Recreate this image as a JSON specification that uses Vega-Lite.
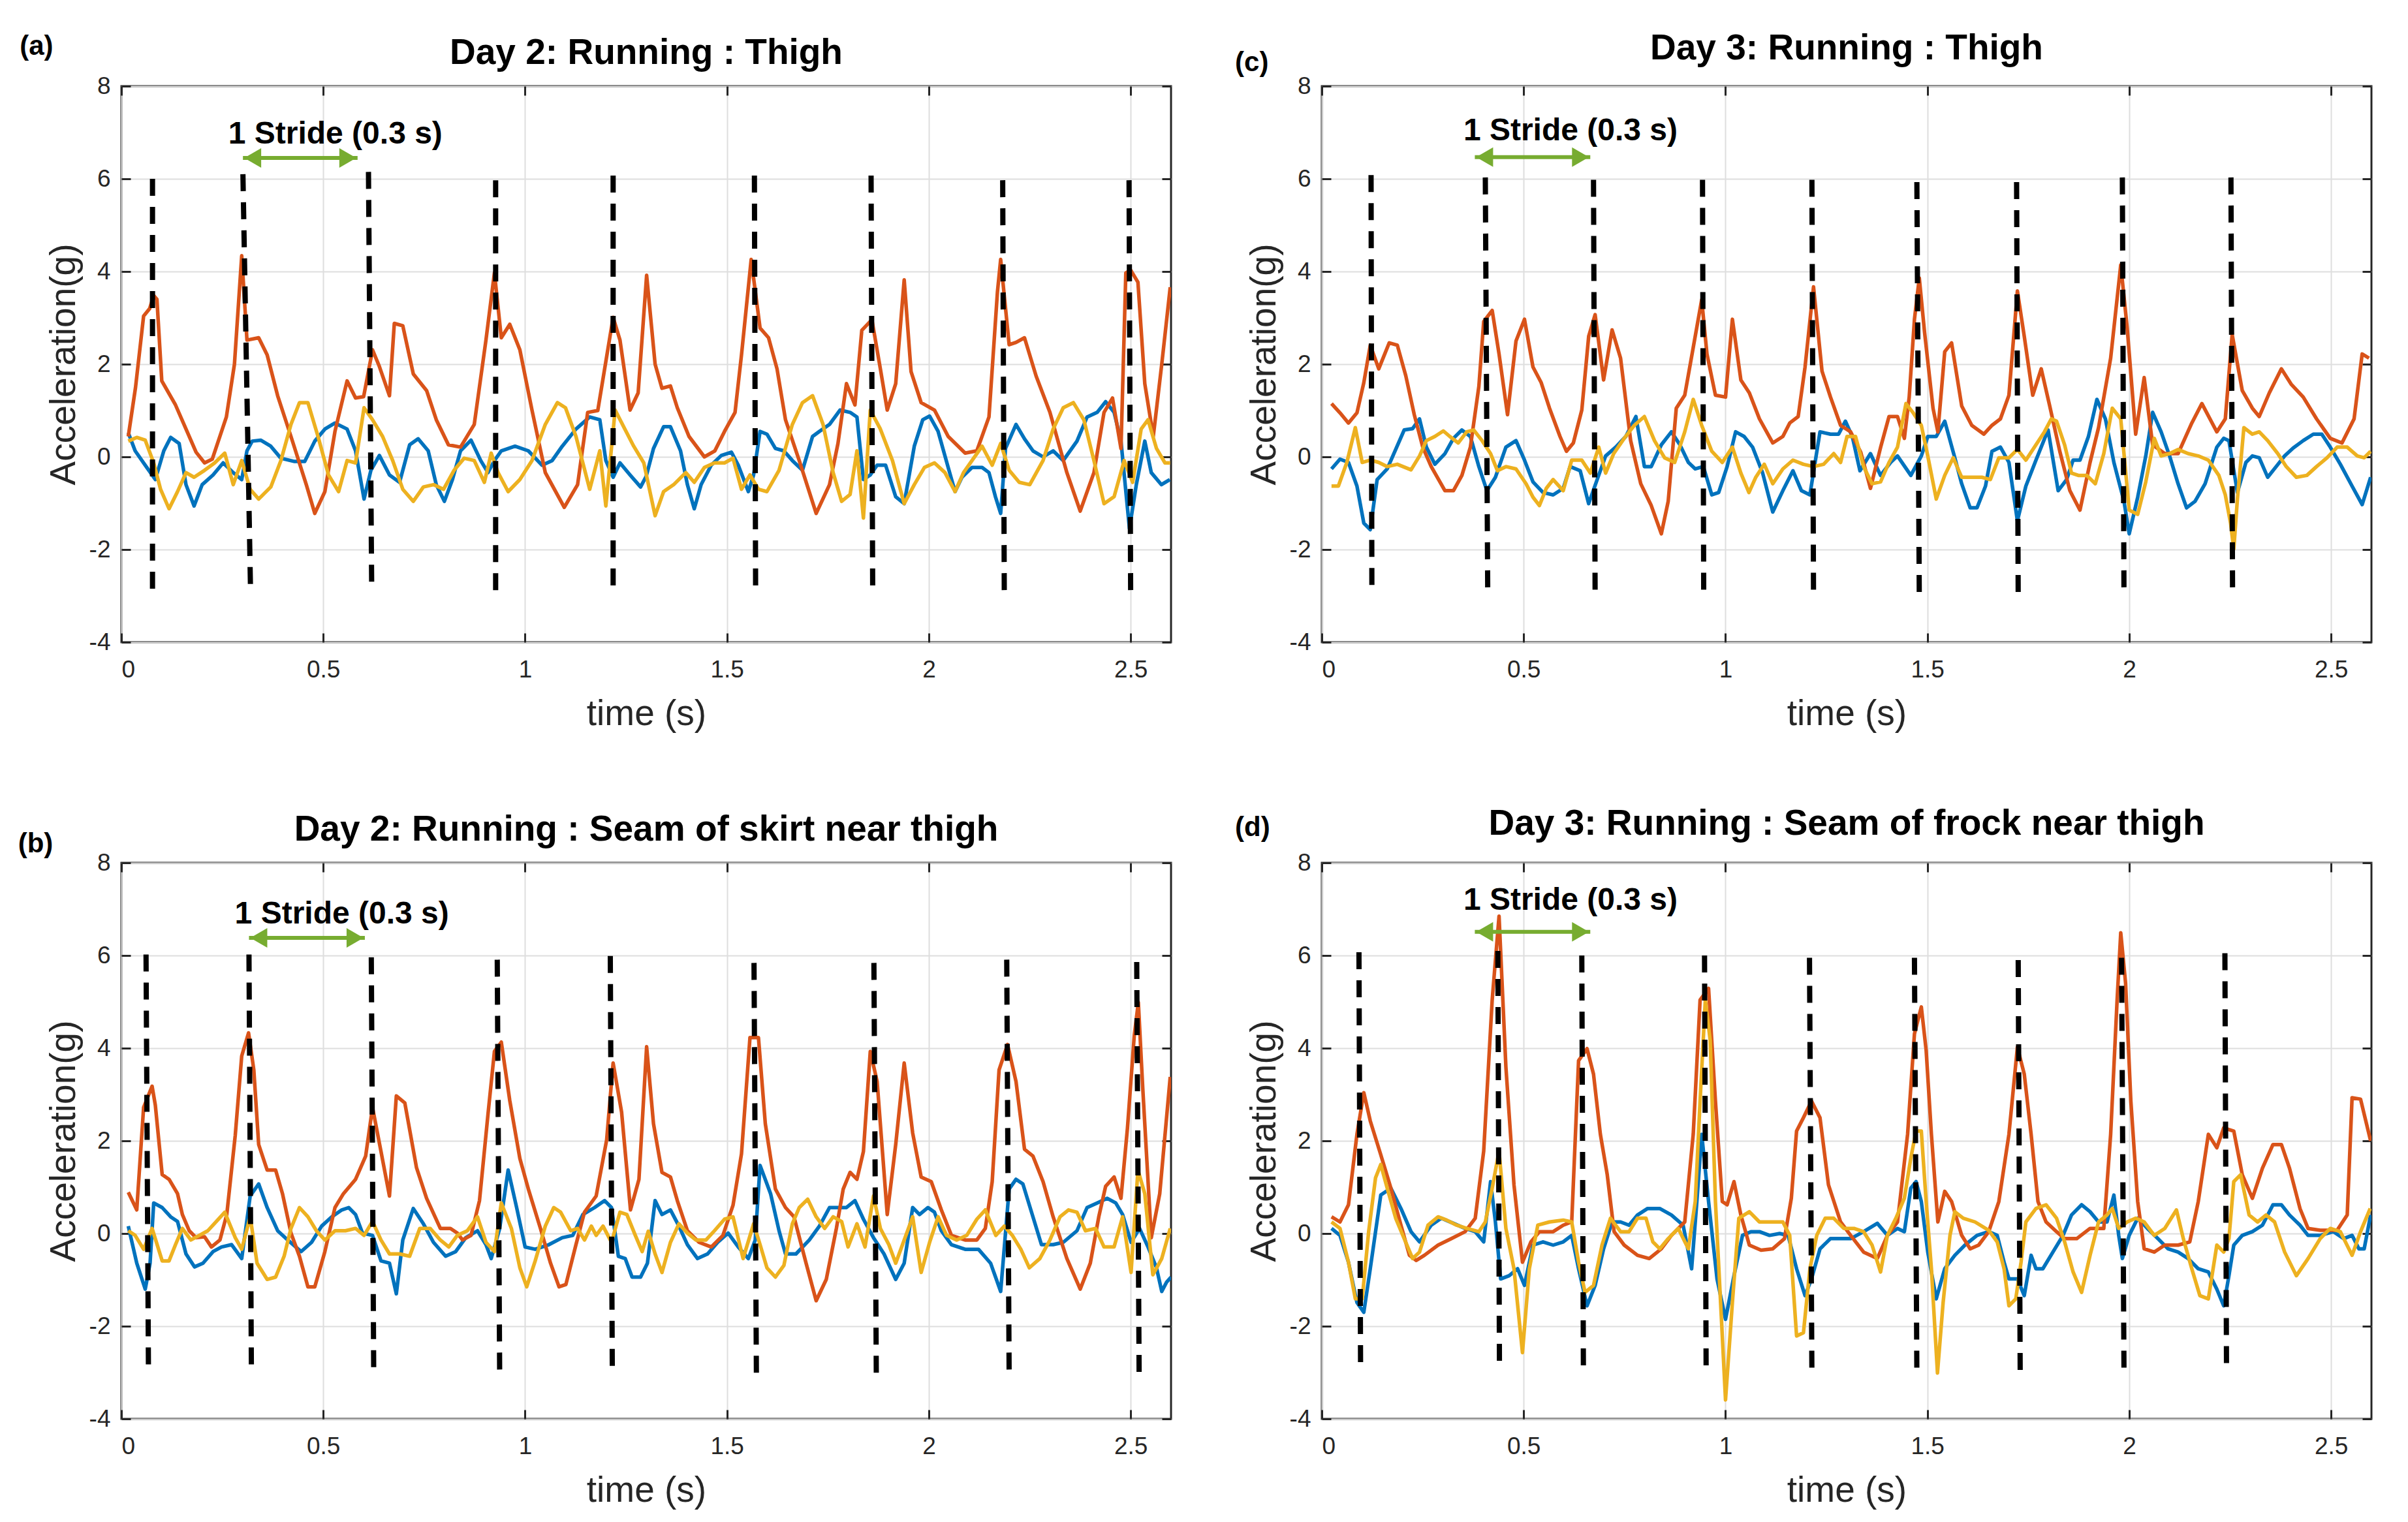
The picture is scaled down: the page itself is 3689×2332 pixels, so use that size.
{
"$schema": "https://vega.github.io/schema/vega-lite/v6.json",
"background": "white",
"padding": {"left": 26, "top": 45, "right": 10, "bottom": 10},
"columns": 2,
"spacing": {"row": 338, "column": 231},
"bounds": "flush",
"config": {
  "font": "Liberation Sans",
  "view": {"stroke": "#262626", "strokeWidth": 3},
  "axis": {"labelFontSize": 37, "labelColor": "#262626", "titleFontSize": 55, "titleFontWeight": "normal", "titleColor": "#262626", "gridColor": "#dedede", "gridWidth": 2, "domain": false, "tickColor": "#262626", "tickWidth": 3, "tickSize": -14, "labelPadding": 38},
  "axisX": {"titlePadding": 23},
  "axisY": {"titlePadding": 10, "labelPadding": 31},
  "title": {"fontSize": 55, "fontWeight": "bold", "color": "black", "frame": "group", "anchor": "middle"}
},
"datasets": {
"marks": [
{"p":"a","x1":0.077,"x2":0.077,"y1":6.0,"y2":-3.0},{"p":"a","x1":0.301,"x2":0.32,"y1":6.1,"y2":-2.96},{"p":"a","x1":0.612,"x2":0.62,"y1":6.15,"y2":-2.88},{"p":"a","x1":0.927,"x2":0.927,"y1":5.97,"y2":-3.07},{"p":"a","x1":1.218,"x2":1.218,"y1":6.07,"y2":-2.91},{"p":"a","x1":1.568,"x2":1.571,"y1":6.07,"y2":-2.96},{"p":"a","x1":1.857,"x2":1.861,"y1":6.07,"y2":-2.96},{"p":"a","x1":2.183,"x2":2.187,"y1":5.97,"y2":-3.07},{"p":"a","x1":2.496,"x2":2.5,"y1":5.97,"y2":-3.07},
{"p":"c","x1":0.122,"x2":0.124,"y1":6.08,"y2":-2.92},{"p":"c","x1":0.405,"x2":0.411,"y1":6.03,"y2":-2.99},{"p":"c","x1":0.673,"x2":0.677,"y1":5.98,"y2":-3.02},{"p":"c","x1":0.943,"x2":0.946,"y1":5.98,"y2":-3.02},{"p":"c","x1":1.214,"x2":1.218,"y1":5.98,"y2":-3.02},{"p":"c","x1":1.474,"x2":1.48,"y1":5.93,"y2":-3.07},{"p":"c","x1":1.721,"x2":1.725,"y1":5.93,"y2":-3.07},{"p":"c","x1":1.983,"x2":1.987,"y1":6.03,"y2":-2.99},{"p":"c","x1":2.252,"x2":2.256,"y1":6.03,"y2":-2.99},
{"p":"b","x1":0.061,"x2":0.067,"y1":6.02,"y2":-2.97},{"p":"b","x1":0.316,"x2":0.322,"y1":6.02,"y2":-2.97},{"p":"b","x1":0.619,"x2":0.625,"y1":5.96,"y2":-3.05},{"p":"b","x1":0.931,"x2":0.937,"y1":5.91,"y2":-3.09},{"p":"b","x1":1.211,"x2":1.216,"y1":5.99,"y2":-3.02},{"p":"b","x1":1.567,"x2":1.573,"y1":5.84,"y2":-3.16},{"p":"b","x1":1.864,"x2":1.87,"y1":5.84,"y2":-3.16},{"p":"b","x1":2.193,"x2":2.199,"y1":5.91,"y2":-3.09},{"p":"b","x1":2.515,"x2":2.521,"y1":5.86,"y2":-3.12},
{"p":"d","x1":0.092,"x2":0.096,"y1":6.07,"y2":-2.92},{"p":"d","x1":0.436,"x2":0.44,"y1":6.1,"y2":-2.82},{"p":"d","x1":0.644,"x2":0.648,"y1":6.0,"y2":-3.03},{"p":"d","x1":0.948,"x2":0.952,"y1":6.0,"y2":-3.03},{"p":"d","x1":1.208,"x2":1.214,"y1":5.95,"y2":-3.08},{"p":"d","x1":1.468,"x2":1.474,"y1":5.95,"y2":-3.08},{"p":"d","x1":1.725,"x2":1.73,"y1":5.9,"y2":-3.13},{"p":"d","x1":1.981,"x2":1.987,"y1":5.95,"y2":-2.92},{"p":"d","x1":2.237,"x2":2.241,"y1":6.05,"y2":-2.97}
],
"arrows": [
{"p":"a","t1":0.301,"t2":0.585,"v":6.45,"tt":0.53,"tv":6.96,"label":"1 Stride (0.3 s)"},
{"p":"c","t1":0.379,"t2":0.665,"v":6.47,"tt":0.616,"tv":7.03,"label":"1 Stride (0.3 s)"},
{"p":"b","t1":0.316,"t2":0.603,"v":6.38,"tt":0.546,"tv":6.89,"label":"1 Stride (0.3 s)"},
{"p":"d","t1":0.379,"t2":0.665,"v":6.51,"tt":0.616,"tv":7.18,"label":"1 Stride (0.3 s)"}
],
"tags": [
{"p":"a","t":-0.252,"v":8.86,"label":"(a)"},
{"p":"c","t":-0.215,"v":8.51,"label":"(c)"},
{"p":"b","t":-0.256,"v":8.41,"label":"(b)"},
{"p":"d","t":-0.215,"v":8.76,"label":"(d)"}
],
"a": [
{"s":"x","t":0.017,"v":0.52},{"s":"x","t":0.034,"v":0.13},{"s":"x","t":0.063,"v":-0.23},{"s":"x","t":0.084,"v":-0.49},{"s":"x","t":0.105,"v":0.13},{"s":"x","t":0.122,"v":0.42},{"s":"x","t":0.143,"v":0.29},{"s":"x","t":0.16,"v":-0.6},{"s":"x","t":0.18,"v":-1.06},{"s":"x","t":0.2,"v":-0.6},{"s":"x","t":0.227,"v":-0.39},{"s":"x","t":0.252,"v":-0.13},{"s":"x","t":0.277,"v":-0.34},{"s":"x","t":0.298,"v":-0.49},{"s":"x","t":0.311,"v":0.13},{"s":"x","t":0.324,"v":0.34},{"s":"x","t":0.345,"v":0.36},{"s":"x","t":0.37,"v":0.23},{"s":"x","t":0.395,"v":-0.03},{"s":"x","t":0.429,"v":-0.1},{"s":"x","t":0.454,"v":-0.1},{"s":"x","t":0.479,"v":0.34},{"s":"x","t":0.504,"v":0.6},{"s":"x","t":0.529,"v":0.73},{"s":"x","t":0.559,"v":0.6},{"s":"x","t":0.58,"v":0.13},{"s":"x","t":0.601,"v":-0.91},{"s":"x","t":0.618,"v":-0.29},{"s":"x","t":0.639,"v":0.03},{"s":"x","t":0.664,"v":-0.39},{"s":"x","t":0.689,"v":-0.55},{"s":"x","t":0.714,"v":0.26},{"s":"x","t":0.735,"v":0.39},{"s":"x","t":0.76,"v":0.13},{"s":"x","t":0.78,"v":-0.6},{"s":"x","t":0.8,"v":-0.96},{"s":"x","t":0.82,"v":-0.49},{"s":"x","t":0.84,"v":0.13},{"s":"x","t":0.866,"v":0.36},{"s":"x","t":0.89,"v":-0.08},{"s":"x","t":0.908,"v":-0.34},{"s":"x","t":0.924,"v":-0.08},{"s":"x","t":0.941,"v":0.13},{"s":"x","t":0.975,"v":0.23},{"s":"x","t":1.008,"v":0.13},{"s":"x","t":1.042,"v":-0.18},{"s":"x","t":1.067,"v":-0.08},{"s":"x","t":1.092,"v":0.23},{"s":"x","t":1.126,"v":0.6},{"s":"x","t":1.16,"v":0.86},{"s":"x","t":1.185,"v":0.8},{"s":"x","t":1.2,"v":-0.08},{"s":"x","t":1.218,"v":-0.44},{"s":"x","t":1.235,"v":-0.13},{"s":"x","t":1.26,"v":-0.39},{"s":"x","t":1.286,"v":-0.65},{"s":"x","t":1.3,"v":-0.42},{"s":"x","t":1.318,"v":0.18},{"s":"x","t":1.343,"v":0.65},{"s":"x","t":1.36,"v":0.65},{"s":"x","t":1.385,"v":0.13},{"s":"x","t":1.402,"v":-0.6},{"s":"x","t":1.419,"v":-1.12},{"s":"x","t":1.436,"v":-0.6},{"s":"x","t":1.461,"v":-0.18},{"s":"x","t":1.486,"v":0.03},{"s":"x","t":1.511,"v":0.1},{"s":"x","t":1.528,"v":-0.18},{"s":"x","t":1.553,"v":-0.75},{"s":"x","t":1.566,"v":-0.39},{"s":"x","t":1.582,"v":0.55},{"s":"x","t":1.599,"v":0.49},{"s":"x","t":1.62,"v":0.18},{"s":"x","t":1.641,"v":0.13},{"s":"x","t":1.662,"v":-0.08},{"s":"x","t":1.687,"v":-0.29},{"s":"x","t":1.712,"v":0.44},{"s":"x","t":1.729,"v":0.55},{"s":"x","t":1.754,"v":0.7},{"s":"x","t":1.78,"v":1.01},{"s":"x","t":1.805,"v":0.96},{"s":"x","t":1.822,"v":0.86},{"s":"x","t":1.838,"v":-0.49},{"s":"x","t":1.855,"v":-0.39},{"s":"x","t":1.872,"v":-0.18},{"s":"x","t":1.893,"v":-0.18},{"s":"x","t":1.918,"v":-0.86},{"s":"x","t":1.939,"v":-1.01},{"s":"x","t":1.964,"v":0.23},{"s":"x","t":1.985,"v":0.8},{"s":"x","t":2.002,"v":0.88},{"s":"x","t":2.023,"v":0.55},{"s":"x","t":2.048,"v":-0.23},{"s":"x","t":2.065,"v":-0.75},{"s":"x","t":2.082,"v":-0.44},{"s":"x","t":2.107,"v":-0.23},{"s":"x","t":2.132,"v":-0.23},{"s":"x","t":2.149,"v":-0.34},{"s":"x","t":2.165,"v":-0.86},{"s":"x","t":2.178,"v":-1.22},{"s":"x","t":2.19,"v":0.18},{"s":"x","t":2.216,"v":0.7},{"s":"x","t":2.237,"v":0.39},{"s":"x","t":2.258,"v":0.13},{"s":"x","t":2.283,"v":0.0},{"s":"x","t":2.308,"v":0.13},{"s":"x","t":2.333,"v":-0.08},{"s":"x","t":2.367,"v":0.34},{"s":"x","t":2.392,"v":0.86},{"s":"x","t":2.417,"v":0.96},{"s":"x","t":2.438,"v":1.19},{"s":"x","t":2.459,"v":0.96},{"s":"x","t":2.476,"v":0.34},{"s":"x","t":2.497,"v":-1.55},{"s":"x","t":2.514,"v":-0.6},{"s":"x","t":2.535,"v":0.34},{"s":"x","t":2.551,"v":-0.34},{"s":"x","t":2.576,"v":-0.6},{"s":"x","t":2.597,"v":-0.49},
{"s":"y","t":0.017,"v":0.44},{"s":"y","t":0.035,"v":1.5},{"s":"y","t":0.055,"v":3.04},{"s":"y","t":0.07,"v":3.2},{"s":"y","t":0.08,"v":3.48},{"s":"y","t":0.088,"v":3.4},{"s":"y","t":0.1,"v":1.64},{"s":"y","t":0.134,"v":1.12},{"s":"y","t":0.16,"v":0.6},{"s":"y","t":0.185,"v":0.1},{"s":"y","t":0.206,"v":-0.13},{"s":"y","t":0.225,"v":-0.05},{"s":"y","t":0.26,"v":0.86},{"s":"y","t":0.28,"v":2.0},{"s":"y","t":0.298,"v":4.34},{"s":"y","t":0.311,"v":2.52},{"s":"y","t":0.34,"v":2.57},{"s":"y","t":0.361,"v":2.2},{"s":"y","t":0.387,"v":1.32},{"s":"y","t":0.42,"v":0.44},{"s":"y","t":0.458,"v":-0.6},{"s":"y","t":0.479,"v":-1.22},{"s":"y","t":0.504,"v":-0.75},{"s":"y","t":0.529,"v":0.55},{"s":"y","t":0.559,"v":1.64},{"s":"y","t":0.58,"v":1.27},{"s":"y","t":0.6,"v":1.3},{"s":"y","t":0.622,"v":2.31},{"s":"y","t":0.639,"v":1.95},{"s":"y","t":0.664,"v":1.32},{"s":"y","t":0.676,"v":2.88},{"s":"y","t":0.697,"v":2.83},{"s":"y","t":0.723,"v":1.79},{"s":"y","t":0.756,"v":1.43},{"s":"y","t":0.78,"v":0.8},{"s":"y","t":0.81,"v":0.26},{"s":"y","t":0.84,"v":0.21},{"s":"y","t":0.874,"v":0.7},{"s":"y","t":0.903,"v":2.52},{"s":"y","t":0.924,"v":3.97},{"s":"y","t":0.941,"v":2.57},{"s":"y","t":0.962,"v":2.86},{"s":"y","t":0.987,"v":2.31},{"s":"y","t":1.017,"v":1.01},{"s":"y","t":1.05,"v":-0.34},{"s":"y","t":1.097,"v":-1.09},{"s":"y","t":1.13,"v":-0.6},{"s":"y","t":1.155,"v":0.96},{"s":"y","t":1.18,"v":1.0},{"s":"y","t":1.218,"v":3.01},{"s":"y","t":1.235,"v":2.52},{"s":"y","t":1.26,"v":1.01},{"s":"y","t":1.28,"v":1.38},{"s":"y","t":1.301,"v":3.92},{"s":"y","t":1.322,"v":2.0},{"s":"y","t":1.339,"v":1.48},{"s":"y","t":1.36,"v":1.53},{"s":"y","t":1.377,"v":1.06},{"s":"y","t":1.406,"v":0.44},{"s":"y","t":1.444,"v":0.0},{"s":"y","t":1.47,"v":0.13},{"s":"y","t":1.494,"v":0.55},{"s":"y","t":1.52,"v":0.96},{"s":"y","t":1.536,"v":2.2},{"s":"y","t":1.56,"v":4.26},{"s":"y","t":1.582,"v":2.78},{"s":"y","t":1.603,"v":2.57},{"s":"y","t":1.624,"v":1.9},{"s":"y","t":1.645,"v":0.8},{"s":"y","t":1.679,"v":-0.08},{"s":"y","t":1.721,"v":-1.22},{"s":"y","t":1.754,"v":-0.6},{"s":"y","t":1.775,"v":0.29},{"s":"y","t":1.796,"v":1.58},{"s":"y","t":1.817,"v":1.12},{"s":"y","t":1.834,"v":2.73},{"s":"y","t":1.859,"v":2.96},{"s":"y","t":1.88,"v":1.9},{"s":"y","t":1.897,"v":1.01},{"s":"y","t":1.918,"v":1.58},{"s":"y","t":1.939,"v":3.82},{"s":"y","t":1.956,"v":1.84},{"s":"y","t":1.981,"v":1.17},{"s":"y","t":2.014,"v":1.01},{"s":"y","t":2.048,"v":0.44},{"s":"y","t":2.09,"v":0.08},{"s":"y","t":2.119,"v":0.13},{"s":"y","t":2.149,"v":0.86},{"s":"y","t":2.17,"v":3.56},{"s":"y","t":2.178,"v":4.26},{"s":"y","t":2.199,"v":2.42},{"s":"y","t":2.216,"v":2.47},{"s":"y","t":2.237,"v":2.57},{"s":"y","t":2.266,"v":1.74},{"s":"y","t":2.3,"v":0.96},{"s":"y","t":2.342,"v":-0.34},{"s":"y","t":2.375,"v":-1.17},{"s":"y","t":2.409,"v":-0.34},{"s":"y","t":2.434,"v":0.96},{"s":"y","t":2.455,"v":1.27},{"s":"y","t":2.476,"v":0.18},{"s":"y","t":2.488,"v":3.97},{"s":"y","t":2.5,"v":4.03},{"s":"y","t":2.518,"v":3.77},{"s":"y","t":2.535,"v":1.58},{"s":"y","t":2.556,"v":0.44},{"s":"y","t":2.577,"v":2.0},{"s":"y","t":2.598,"v":3.66},
{"s":"z","t":0.017,"v":0.34},{"s":"z","t":0.038,"v":0.42},{"s":"z","t":0.059,"v":0.36},{"s":"z","t":0.08,"v":-0.13},{"s":"z","t":0.097,"v":-0.7},{"s":"z","t":0.118,"v":-1.12},{"s":"z","t":0.139,"v":-0.75},{"s":"z","t":0.16,"v":-0.34},{"s":"z","t":0.18,"v":-0.44},{"s":"z","t":0.206,"v":-0.29},{"s":"z","t":0.231,"v":-0.13},{"s":"z","t":0.256,"v":0.08},{"s":"z","t":0.277,"v":-0.6},{"s":"z","t":0.298,"v":-0.08},{"s":"z","t":0.319,"v":-0.7},{"s":"z","t":0.34,"v":-0.91},{"s":"z","t":0.37,"v":-0.65},{"s":"z","t":0.395,"v":-0.08},{"s":"z","t":0.42,"v":0.7},{"s":"z","t":0.441,"v":1.17},{"s":"z","t":0.462,"v":1.17},{"s":"z","t":0.487,"v":0.44},{"s":"z","t":0.513,"v":-0.39},{"s":"z","t":0.538,"v":-0.75},{"s":"z","t":0.559,"v":-0.08},{"s":"z","t":0.58,"v":-0.13},{"s":"z","t":0.601,"v":1.06},{"s":"z","t":0.622,"v":0.8},{"s":"z","t":0.647,"v":0.44},{"s":"z","t":0.672,"v":-0.08},{"s":"z","t":0.697,"v":-0.7},{"s":"z","t":0.723,"v":-0.96},{"s":"z","t":0.748,"v":-0.65},{"s":"z","t":0.773,"v":-0.6},{"s":"z","t":0.798,"v":-0.7},{"s":"z","t":0.824,"v":-0.29},{"s":"z","t":0.849,"v":-0.03},{"s":"z","t":0.874,"v":-0.08},{"s":"z","t":0.899,"v":-0.55},{"s":"z","t":0.916,"v":0.08},{"s":"z","t":0.933,"v":-0.34},{"s":"z","t":0.958,"v":-0.75},{"s":"z","t":0.987,"v":-0.49},{"s":"z","t":1.017,"v":-0.08},{"s":"z","t":1.05,"v":0.7},{"s":"z","t":1.08,"v":1.17},{"s":"z","t":1.1,"v":1.06},{"s":"z","t":1.126,"v":0.44},{"s":"z","t":1.16,"v":-0.7},{"s":"z","t":1.185,"v":0.13},{"s":"z","t":1.2,"v":-1.06},{"s":"z","t":1.223,"v":1.01},{"s":"z","t":1.244,"v":0.65},{"s":"z","t":1.269,"v":0.23},{"s":"z","t":1.294,"v":-0.13},{"s":"z","t":1.322,"v":-1.27},{"s":"z","t":1.343,"v":-0.75},{"s":"z","t":1.368,"v":-0.6},{"s":"z","t":1.398,"v":-0.34},{"s":"z","t":1.419,"v":-0.55},{"s":"z","t":1.444,"v":-0.23},{"s":"z","t":1.469,"v":-0.13},{"s":"z","t":1.494,"v":-0.13},{"s":"z","t":1.515,"v":-0.03},{"s":"z","t":1.536,"v":-0.7},{"s":"z","t":1.557,"v":-0.39},{"s":"z","t":1.578,"v":-0.7},{"s":"z","t":1.599,"v":-0.75},{"s":"z","t":1.629,"v":-0.29},{"s":"z","t":1.662,"v":0.7},{"s":"z","t":1.687,"v":1.17},{"s":"z","t":1.712,"v":1.32},{"s":"z","t":1.738,"v":0.7},{"s":"z","t":1.763,"v":-0.34},{"s":"z","t":1.784,"v":-0.96},{"s":"z","t":1.805,"v":-0.81},{"s":"z","t":1.822,"v":0.13},{"s":"z","t":1.838,"v":-1.32},{"s":"z","t":1.855,"v":1.01},{"s":"z","t":1.88,"v":0.6},{"s":"z","t":1.91,"v":-0.08},{"s":"z","t":1.939,"v":-1.01},{"s":"z","t":1.964,"v":-0.6},{"s":"z","t":1.989,"v":-0.23},{"s":"z","t":2.014,"v":-0.13},{"s":"z","t":2.04,"v":-0.34},{"s":"z","t":2.065,"v":-0.75},{"s":"z","t":2.086,"v":-0.34},{"s":"z","t":2.107,"v":-0.08},{"s":"z","t":2.132,"v":0.23},{"s":"z","t":2.157,"v":-0.18},{"s":"z","t":2.178,"v":0.29},{"s":"z","t":2.199,"v":-0.29},{"s":"z","t":2.224,"v":-0.55},{"s":"z","t":2.25,"v":-0.6},{"s":"z","t":2.283,"v":-0.08},{"s":"z","t":2.308,"v":0.6},{"s":"z","t":2.333,"v":1.06},{"s":"z","t":2.358,"v":1.17},{"s":"z","t":2.384,"v":0.8},{"s":"z","t":2.409,"v":-0.08},{"s":"z","t":2.434,"v":-1.01},{"s":"z","t":2.459,"v":-0.86},{"s":"z","t":2.484,"v":-0.08},{"s":"z","t":2.505,"v":-0.55},{"s":"z","t":2.526,"v":0.6},{"s":"z","t":2.543,"v":0.8},{"s":"z","t":2.564,"v":0.18},{"s":"z","t":2.585,"v":-0.13},{"s":"z","t":2.598,"v":-0.13}
],
"c": [
{"s":"x","t":0.024,"v":-0.26},{"s":"x","t":0.045,"v":-0.05},{"s":"x","t":0.066,"v":-0.12},{"s":"x","t":0.087,"v":-0.63},{"s":"x","t":0.104,"v":-1.43},{"s":"x","t":0.12,"v":-1.57},{"s":"x","t":0.137,"v":-0.49},{"s":"x","t":0.162,"v":-0.26},{"s":"x","t":0.183,"v":0.16},{"s":"x","t":0.204,"v":0.58},{"s":"x","t":0.225,"v":0.61},{"s":"x","t":0.242,"v":0.82},{"s":"x","t":0.259,"v":0.21},{"s":"x","t":0.28,"v":-0.16},{"s":"x","t":0.305,"v":0.07},{"s":"x","t":0.326,"v":0.4},{"s":"x","t":0.347,"v":0.58},{"s":"x","t":0.368,"v":0.44},{"s":"x","t":0.389,"v":-0.21},{"s":"x","t":0.409,"v":-0.73},{"s":"x","t":0.43,"v":-0.44},{"s":"x","t":0.456,"v":0.21},{"s":"x","t":0.481,"v":0.35},{"s":"x","t":0.502,"v":-0.07},{"s":"x","t":0.523,"v":-0.54},{"s":"x","t":0.548,"v":-0.77},{"s":"x","t":0.573,"v":-0.82},{"s":"x","t":0.598,"v":-0.68},{"s":"x","t":0.615,"v":-0.21},{"s":"x","t":0.64,"v":-0.3},{"s":"x","t":0.661,"v":-1.01},{"s":"x","t":0.682,"v":-0.49},{"s":"x","t":0.703,"v":0.02},{"s":"x","t":0.728,"v":0.21},{"s":"x","t":0.753,"v":0.44},{"s":"x","t":0.778,"v":0.87},{"s":"x","t":0.799,"v":-0.21},{"s":"x","t":0.816,"v":-0.21},{"s":"x","t":0.841,"v":0.26},{"s":"x","t":0.866,"v":0.54},{"s":"x","t":0.887,"v":0.26},{"s":"x","t":0.908,"v":-0.12},{"s":"x","t":0.925,"v":-0.26},{"s":"x","t":0.945,"v":-0.21},{"s":"x","t":0.966,"v":-0.82},{"s":"x","t":0.983,"v":-0.77},{"s":"x","t":1.004,"v":-0.21},{"s":"x","t":1.025,"v":0.54},{"s":"x","t":1.046,"v":0.44},{"s":"x","t":1.067,"v":0.21},{"s":"x","t":1.092,"v":-0.35},{"s":"x","t":1.117,"v":-1.19},{"s":"x","t":1.142,"v":-0.73},{"s":"x","t":1.167,"v":-0.3},{"s":"x","t":1.188,"v":-0.73},{"s":"x","t":1.209,"v":-0.82},{"s":"x","t":1.234,"v":0.54},{"s":"x","t":1.26,"v":0.49},{"s":"x","t":1.28,"v":0.49},{"s":"x","t":1.297,"v":0.77},{"s":"x","t":1.314,"v":0.44},{"s":"x","t":1.333,"v":-0.3},{"s":"x","t":1.359,"v":0.07},{"s":"x","t":1.384,"v":-0.4},{"s":"x","t":1.409,"v":-0.12},{"s":"x","t":1.426,"v":0.02},{"s":"x","t":1.459,"v":-0.4},{"s":"x","t":1.485,"v":0.02},{"s":"x","t":1.501,"v":0.44},{"s":"x","t":1.522,"v":0.44},{"s":"x","t":1.543,"v":0.77},{"s":"x","t":1.568,"v":-0.02},{"s":"x","t":1.585,"v":-0.58},{"s":"x","t":1.606,"v":-1.1},{"s":"x","t":1.623,"v":-1.1},{"s":"x","t":1.644,"v":-0.63},{"s":"x","t":1.66,"v":0.12},{"s":"x","t":1.681,"v":0.21},{"s":"x","t":1.702,"v":-0.12},{"s":"x","t":1.723,"v":-1.38},{"s":"x","t":1.744,"v":-0.63},{"s":"x","t":1.769,"v":-0.07},{"s":"x","t":1.799,"v":0.58},{"s":"x","t":1.824,"v":-0.73},{"s":"x","t":1.845,"v":-0.49},{"s":"x","t":1.861,"v":-0.07},{"s":"x","t":1.878,"v":-0.07},{"s":"x","t":1.899,"v":0.44},{"s":"x","t":1.92,"v":1.24},{"s":"x","t":1.941,"v":0.82},{"s":"x","t":1.962,"v":-0.12},{"s":"x","t":1.987,"v":-0.96},{"s":"x","t":2.0,"v":-1.66},{"s":"x","t":2.021,"v":-0.87},{"s":"x","t":2.041,"v":0.02},{"s":"x","t":2.058,"v":0.96},{"s":"x","t":2.079,"v":0.54},{"s":"x","t":2.1,"v":0.02},{"s":"x","t":2.121,"v":-0.58},{"s":"x","t":2.142,"v":-1.1},{"s":"x","t":2.163,"v":-0.96},{"s":"x","t":2.188,"v":-0.58},{"s":"x","t":2.217,"v":0.21},{"s":"x","t":2.234,"v":0.4},{"s":"x","t":2.247,"v":0.35},{"s":"x","t":2.268,"v":-0.77},{"s":"x","t":2.289,"v":-0.12},{"s":"x","t":2.305,"v":0.02},{"s":"x","t":2.322,"v":-0.02},{"s":"x","t":2.343,"v":-0.44},{"s":"x","t":2.364,"v":-0.21},{"s":"x","t":2.385,"v":0.02},{"s":"x","t":2.406,"v":0.19},{"s":"x","t":2.431,"v":0.35},{"s":"x","t":2.456,"v":0.49},{"s":"x","t":2.477,"v":0.49},{"s":"x","t":2.498,"v":0.21},{"s":"x","t":2.523,"v":-0.16},{"s":"x","t":2.552,"v":-0.63},{"s":"x","t":2.577,"v":-1.03},{"s":"x","t":2.598,"v":-0.44},
{"s":"y","t":0.024,"v":1.15},{"s":"y","t":0.045,"v":0.95},{"s":"y","t":0.066,"v":0.73},{"s":"y","t":0.087,"v":0.95},{"s":"y","t":0.104,"v":1.6},{"s":"y","t":0.12,"v":2.41},{"s":"y","t":0.141,"v":1.9},{"s":"y","t":0.167,"v":2.46},{"s":"y","t":0.187,"v":2.41},{"s":"y","t":0.208,"v":1.75},{"s":"y","t":0.229,"v":0.91},{"s":"y","t":0.25,"v":0.21},{"s":"y","t":0.271,"v":-0.21},{"s":"y","t":0.305,"v":-0.73},{"s":"y","t":0.326,"v":-0.73},{"s":"y","t":0.347,"v":-0.4},{"s":"y","t":0.368,"v":0.21},{"s":"y","t":0.389,"v":1.52},{"s":"y","t":0.401,"v":2.92},{"s":"y","t":0.422,"v":3.16},{"s":"y","t":0.439,"v":2.22},{"s":"y","t":0.46,"v":0.91},{"s":"y","t":0.481,"v":2.5},{"s":"y","t":0.502,"v":2.97},{"s":"y","t":0.523,"v":1.94},{"s":"y","t":0.543,"v":1.61},{"s":"y","t":0.564,"v":1.05},{"s":"y","t":0.59,"v":0.44},{"s":"y","t":0.606,"v":0.12},{"s":"y","t":0.623,"v":0.3},{"s":"y","t":0.644,"v":1.01},{"s":"y","t":0.661,"v":2.6},{"s":"y","t":0.677,"v":3.07},{"s":"y","t":0.698,"v":1.66},{"s":"y","t":0.719,"v":2.74},{"s":"y","t":0.74,"v":2.13},{"s":"y","t":0.765,"v":0.35},{"s":"y","t":0.79,"v":-0.58},{"s":"y","t":0.816,"v":-1.05},{"s":"y","t":0.841,"v":-1.66},{"s":"y","t":0.858,"v":-0.96},{"s":"y","t":0.878,"v":1.05},{"s":"y","t":0.899,"v":1.33},{"s":"y","t":0.92,"v":2.36},{"s":"y","t":0.941,"v":3.39},{"s":"y","t":0.954,"v":2.22},{"s":"y","t":0.975,"v":1.33},{"s":"y","t":1.0,"v":1.29},{"s":"y","t":1.017,"v":2.97},{"s":"y","t":1.038,"v":1.66},{"s":"y","t":1.059,"v":1.38},{"s":"y","t":1.084,"v":0.82},{"s":"y","t":1.117,"v":0.3},{"s":"y","t":1.142,"v":0.44},{"s":"y","t":1.159,"v":0.73},{"s":"y","t":1.18,"v":0.87},{"s":"y","t":1.197,"v":1.94},{"s":"y","t":1.218,"v":3.67},{"s":"y","t":1.239,"v":1.85},{"s":"y","t":1.26,"v":1.29},{"s":"y","t":1.285,"v":0.68},{"s":"y","t":1.31,"v":0.54},{"s":"y","t":1.335,"v":0.1},{"s":"y","t":1.359,"v":-0.68},{"s":"y","t":1.384,"v":0.2},{"s":"y","t":1.405,"v":0.87},{"s":"y","t":1.426,"v":0.87},{"s":"y","t":1.443,"v":0.4},{"s":"y","t":1.455,"v":1.29},{"s":"y","t":1.468,"v":2.97},{"s":"y","t":1.48,"v":3.86},{"s":"y","t":1.493,"v":2.69},{"s":"y","t":1.514,"v":1.05},{"s":"y","t":1.526,"v":0.54},{"s":"y","t":1.543,"v":2.27},{"s":"y","t":1.56,"v":2.46},{"s":"y","t":1.585,"v":1.1},{"s":"y","t":1.61,"v":0.68},{"s":"y","t":1.64,"v":0.49},{"s":"y","t":1.66,"v":0.68},{"s":"y","t":1.681,"v":0.82},{"s":"y","t":1.702,"v":1.33},{"s":"y","t":1.723,"v":3.58},{"s":"y","t":1.74,"v":2.6},{"s":"y","t":1.761,"v":1.33},{"s":"y","t":1.782,"v":1.9},{"s":"y","t":1.803,"v":1.1},{"s":"y","t":1.828,"v":0.12},{"s":"y","t":1.853,"v":-0.73},{"s":"y","t":1.878,"v":-1.15},{"s":"y","t":1.903,"v":-0.12},{"s":"y","t":1.924,"v":0.63},{"s":"y","t":1.954,"v":2.13},{"s":"y","t":1.979,"v":4.14},{"s":"y","t":1.995,"v":2.78},{"s":"y","t":2.016,"v":0.49},{"s":"y","t":2.037,"v":1.71},{"s":"y","t":2.058,"v":0.26},{"s":"y","t":2.088,"v":0.07},{"s":"y","t":2.121,"v":0.07},{"s":"y","t":2.155,"v":0.73},{"s":"y","t":2.18,"v":1.15},{"s":"y","t":2.217,"v":0.54},{"s":"y","t":2.238,"v":0.82},{"s":"y","t":2.255,"v":2.64},{"s":"y","t":2.28,"v":1.43},{"s":"y","t":2.305,"v":1.05},{"s":"y","t":2.322,"v":0.87},{"s":"y","t":2.347,"v":1.38},{"s":"y","t":2.377,"v":1.9},{"s":"y","t":2.401,"v":1.57},{"s":"y","t":2.431,"v":1.29},{"s":"y","t":2.464,"v":0.82},{"s":"y","t":2.498,"v":0.4},{"s":"y","t":2.527,"v":0.3},{"s":"y","t":2.557,"v":0.82},{"s":"y","t":2.577,"v":2.22},{"s":"y","t":2.594,"v":2.13},
{"s":"z","t":0.024,"v":-0.63},{"s":"z","t":0.041,"v":-0.63},{"s":"z","t":0.062,"v":-0.12},{"s":"z","t":0.083,"v":0.63},{"s":"z","t":0.1,"v":-0.12},{"s":"z","t":0.12,"v":-0.07},{"s":"z","t":0.141,"v":-0.12},{"s":"z","t":0.162,"v":-0.21},{"s":"z","t":0.187,"v":-0.16},{"s":"z","t":0.221,"v":-0.28},{"s":"z","t":0.242,"v":0.02},{"s":"z","t":0.259,"v":0.35},{"s":"z","t":0.28,"v":0.44},{"s":"z","t":0.301,"v":0.56},{"s":"z","t":0.317,"v":0.44},{"s":"z","t":0.338,"v":0.3},{"s":"z","t":0.359,"v":0.54},{"s":"z","t":0.376,"v":0.58},{"s":"z","t":0.397,"v":0.35},{"s":"z","t":0.418,"v":0.07},{"s":"z","t":0.435,"v":-0.3},{"s":"z","t":0.456,"v":-0.21},{"s":"z","t":0.481,"v":-0.26},{"s":"z","t":0.506,"v":-0.58},{"s":"z","t":0.523,"v":-0.87},{"s":"z","t":0.539,"v":-1.05},{"s":"z","t":0.556,"v":-0.68},{"s":"z","t":0.573,"v":-0.49},{"s":"z","t":0.598,"v":-0.73},{"s":"z","t":0.619,"v":-0.07},{"s":"z","t":0.644,"v":-0.07},{"s":"z","t":0.665,"v":-0.35},{"s":"z","t":0.686,"v":0.21},{"s":"z","t":0.703,"v":-0.35},{"s":"z","t":0.723,"v":0.07},{"s":"z","t":0.749,"v":0.4},{"s":"z","t":0.774,"v":0.68},{"s":"z","t":0.799,"v":0.87},{"s":"z","t":0.824,"v":0.35},{"s":"z","t":0.849,"v":-0.02},{"s":"z","t":0.874,"v":-0.12},{"s":"z","t":0.899,"v":0.54},{"s":"z","t":0.92,"v":1.24},{"s":"z","t":0.941,"v":0.68},{"s":"z","t":0.966,"v":0.12},{"s":"z","t":0.992,"v":-0.12},{"s":"z","t":1.017,"v":0.21},{"s":"z","t":1.038,"v":-0.35},{"s":"z","t":1.058,"v":-0.77},{"s":"z","t":1.075,"v":-0.44},{"s":"z","t":1.096,"v":-0.16},{"s":"z","t":1.117,"v":-0.58},{"s":"z","t":1.142,"v":-0.26},{"s":"z","t":1.167,"v":-0.07},{"s":"z","t":1.193,"v":-0.16},{"s":"z","t":1.218,"v":-0.21},{"s":"z","t":1.243,"v":-0.16},{"s":"z","t":1.268,"v":0.07},{"s":"z","t":1.285,"v":-0.12},{"s":"z","t":1.301,"v":0.44},{"s":"z","t":1.322,"v":0.44},{"s":"z","t":1.342,"v":-0.21},{"s":"z","t":1.363,"v":-0.58},{"s":"z","t":1.384,"v":-0.54},{"s":"z","t":1.405,"v":-0.12},{"s":"z","t":1.426,"v":0.21},{"s":"z","t":1.447,"v":1.15},{"s":"z","t":1.464,"v":0.96},{"s":"z","t":1.485,"v":0.68},{"s":"z","t":1.501,"v":0.02},{"s":"z","t":1.522,"v":-0.91},{"s":"z","t":1.543,"v":-0.4},{"s":"z","t":1.564,"v":-0.02},{"s":"z","t":1.585,"v":-0.44},{"s":"z","t":1.61,"v":-0.44},{"s":"z","t":1.635,"v":-0.44},{"s":"z","t":1.656,"v":-0.49},{"s":"z","t":1.677,"v":-0.02},{"s":"z","t":1.702,"v":-0.02},{"s":"z","t":1.723,"v":0.16},{"s":"z","t":1.744,"v":-0.07},{"s":"z","t":1.769,"v":0.26},{"s":"z","t":1.79,"v":0.54},{"s":"z","t":1.807,"v":0.82},{"s":"z","t":1.82,"v":0.77},{"s":"z","t":1.84,"v":0.26},{"s":"z","t":1.857,"v":-0.35},{"s":"z","t":1.874,"v":-0.4},{"s":"z","t":1.895,"v":-0.4},{"s":"z","t":1.916,"v":-0.58},{"s":"z","t":1.937,"v":0.07},{"s":"z","t":1.958,"v":1.05},{"s":"z","t":1.979,"v":0.82},{"s":"z","t":2.0,"v":-1.15},{"s":"z","t":2.021,"v":-1.24},{"s":"z","t":2.041,"v":-0.54},{"s":"z","t":2.062,"v":0.4},{"s":"z","t":2.079,"v":0.02},{"s":"z","t":2.1,"v":0.07},{"s":"z","t":2.121,"v":0.16},{"s":"z","t":2.146,"v":0.07},{"s":"z","t":2.171,"v":0.02},{"s":"z","t":2.196,"v":-0.07},{"s":"z","t":2.222,"v":-0.4},{"s":"z","t":2.238,"v":-0.82},{"s":"z","t":2.251,"v":-1.43},{"s":"z","t":2.259,"v":-1.99},{"s":"z","t":2.268,"v":-0.91},{"s":"z","t":2.284,"v":0.63},{"s":"z","t":2.305,"v":0.49},{"s":"z","t":2.322,"v":0.54},{"s":"z","t":2.343,"v":0.35},{"s":"z","t":2.368,"v":0.07},{"s":"z","t":2.389,"v":-0.21},{"s":"z","t":2.414,"v":-0.44},{"s":"z","t":2.44,"v":-0.4},{"s":"z","t":2.464,"v":-0.21},{"s":"z","t":2.49,"v":-0.02},{"s":"z","t":2.515,"v":0.21},{"s":"z","t":2.54,"v":0.21},{"s":"z","t":2.565,"v":0.02},{"s":"z","t":2.582,"v":-0.02},{"s":"z","t":2.598,"v":0.12}
],
"b": [
{"s":"x","t":0.017,"v":0.16},{"s":"x","t":0.038,"v":-0.64},{"s":"x","t":0.059,"v":-1.2},{"s":"x","t":0.071,"v":-0.64},{"s":"x","t":0.08,"v":0.66},{"s":"x","t":0.101,"v":0.56},{"s":"x","t":0.122,"v":0.36},{"s":"x","t":0.139,"v":0.26},{"s":"x","t":0.16,"v":-0.44},{"s":"x","t":0.181,"v":-0.72},{"s":"x","t":0.202,"v":-0.64},{"s":"x","t":0.227,"v":-0.39},{"s":"x","t":0.248,"v":-0.29},{"s":"x","t":0.273,"v":-0.24},{"s":"x","t":0.298,"v":-0.54},{"s":"x","t":0.319,"v":0.81},{"s":"x","t":0.34,"v":1.07},{"s":"x","t":0.361,"v":0.56},{"s":"x","t":0.387,"v":0.06},{"s":"x","t":0.412,"v":-0.14},{"s":"x","t":0.445,"v":-0.39},{"s":"x","t":0.471,"v":-0.19},{"s":"x","t":0.496,"v":0.16},{"s":"x","t":0.521,"v":0.36},{"s":"x","t":0.546,"v":0.51},{"s":"x","t":0.563,"v":0.56},{"s":"x","t":0.58,"v":0.41},{"s":"x","t":0.597,"v":0.01},{"s":"x","t":0.622,"v":-0.04},{"s":"x","t":0.643,"v":-0.59},{"s":"x","t":0.664,"v":-0.64},{"s":"x","t":0.681,"v":-1.3},{"s":"x","t":0.697,"v":-0.14},{"s":"x","t":0.723,"v":0.54},{"s":"x","t":0.748,"v":0.21},{"s":"x","t":0.773,"v":-0.19},{"s":"x","t":0.803,"v":-0.49},{"s":"x","t":0.828,"v":-0.39},{"s":"x","t":0.853,"v":-0.09},{"s":"x","t":0.882,"v":0.06},{"s":"x","t":0.903,"v":-0.24},{"s":"x","t":0.916,"v":-0.54},{"s":"x","t":0.937,"v":0.11},{"s":"x","t":0.958,"v":1.37},{"s":"x","t":0.979,"v":0.56},{"s":"x","t":1.0,"v":-0.29},{"s":"x","t":1.025,"v":-0.34},{"s":"x","t":1.059,"v":-0.24},{"s":"x","t":1.092,"v":-0.09},{"s":"x","t":1.118,"v":-0.04},{"s":"x","t":1.143,"v":0.41},{"s":"x","t":1.172,"v":0.56},{"s":"x","t":1.197,"v":0.71},{"s":"x","t":1.214,"v":0.56},{"s":"x","t":1.231,"v":-0.49},{"s":"x","t":1.248,"v":-0.54},{"s":"x","t":1.265,"v":-0.94},{"s":"x","t":1.286,"v":-0.94},{"s":"x","t":1.303,"v":-0.64},{"s":"x","t":1.322,"v":0.71},{"s":"x","t":1.339,"v":0.41},{"s":"x","t":1.36,"v":0.51},{"s":"x","t":1.381,"v":0.16},{"s":"x","t":1.402,"v":-0.24},{"s":"x","t":1.427,"v":-0.54},{"s":"x","t":1.452,"v":-0.44},{"s":"x","t":1.477,"v":-0.19},{"s":"x","t":1.503,"v":0.01},{"s":"x","t":1.528,"v":-0.29},{"s":"x","t":1.553,"v":-0.54},{"s":"x","t":1.57,"v":-0.14},{"s":"x","t":1.582,"v":1.47},{"s":"x","t":1.608,"v":0.86},{"s":"x","t":1.629,"v":0.06},{"s":"x","t":1.645,"v":-0.44},{"s":"x","t":1.671,"v":-0.44},{"s":"x","t":1.704,"v":-0.14},{"s":"x","t":1.729,"v":0.16},{"s":"x","t":1.754,"v":0.56},{"s":"x","t":1.78,"v":0.56},{"s":"x","t":1.796,"v":0.56},{"s":"x","t":1.817,"v":0.71},{"s":"x","t":1.838,"v":0.31},{"s":"x","t":1.863,"v":-0.09},{"s":"x","t":1.889,"v":-0.44},{"s":"x","t":1.918,"v":-0.99},{"s":"x","t":1.939,"v":-0.64},{"s":"x","t":1.96,"v":0.56},{"s":"x","t":1.977,"v":0.41},{"s":"x","t":1.998,"v":0.56},{"s":"x","t":2.014,"v":0.46},{"s":"x","t":2.031,"v":0.06},{"s":"x","t":2.056,"v":-0.24},{"s":"x","t":2.09,"v":-0.34},{"s":"x","t":2.123,"v":-0.34},{"s":"x","t":2.153,"v":-0.64},{"s":"x","t":2.178,"v":-1.25},{"s":"x","t":2.199,"v":0.96},{"s":"x","t":2.216,"v":1.17},{"s":"x","t":2.233,"v":1.07},{"s":"x","t":2.258,"v":0.36},{"s":"x","t":2.279,"v":-0.24},{"s":"x","t":2.308,"v":-0.24},{"s":"x","t":2.333,"v":-0.19},{"s":"x","t":2.367,"v":0.06},{"s":"x","t":2.392,"v":0.56},{"s":"x","t":2.417,"v":0.66},{"s":"x","t":2.442,"v":0.76},{"s":"x","t":2.463,"v":0.66},{"s":"x","t":2.48,"v":0.41},{"s":"x","t":2.501,"v":-0.19},{"s":"x","t":2.522,"v":0.11},{"s":"x","t":2.543,"v":-0.29},{"s":"x","t":2.564,"v":-0.74},{"s":"x","t":2.577,"v":-1.25},{"s":"x","t":2.589,"v":-1.05},{"s":"x","t":2.6,"v":-0.94},
{"s":"y","t":0.017,"v":0.89},{"s":"y","t":0.038,"v":0.51},{"s":"y","t":0.055,"v":2.72},{"s":"y","t":0.076,"v":3.18},{"s":"y","t":0.084,"v":2.77},{"s":"y","t":0.101,"v":1.27},{"s":"y","t":0.118,"v":1.17},{"s":"y","t":0.139,"v":0.86},{"s":"y","t":0.151,"v":0.41},{"s":"y","t":0.168,"v":0.06},{"s":"y","t":0.185,"v":-0.09},{"s":"y","t":0.206,"v":-0.07},{"s":"y","t":0.223,"v":-0.29},{"s":"y","t":0.244,"v":-0.14},{"s":"y","t":0.261,"v":0.41},{"s":"y","t":0.282,"v":2.12},{"s":"y","t":0.298,"v":3.83},{"s":"y","t":0.315,"v":4.33},{"s":"y","t":0.328,"v":3.53},{"s":"y","t":0.34,"v":1.92},{"s":"y","t":0.361,"v":1.37},{"s":"y","t":0.382,"v":1.37},{"s":"y","t":0.399,"v":0.86},{"s":"y","t":0.42,"v":0.01},{"s":"y","t":0.441,"v":-0.49},{"s":"y","t":0.462,"v":-1.15},{"s":"y","t":0.479,"v":-1.15},{"s":"y","t":0.504,"v":-0.39},{"s":"y","t":0.529,"v":0.56},{"s":"y","t":0.55,"v":0.86},{"s":"y","t":0.58,"v":1.17},{"s":"y","t":0.605,"v":1.67},{"s":"y","t":0.622,"v":2.72},{"s":"y","t":0.643,"v":1.77},{"s":"y","t":0.664,"v":0.81},{"s":"y","t":0.681,"v":2.97},{"s":"y","t":0.702,"v":2.82},{"s":"y","t":0.731,"v":1.42},{"s":"y","t":0.756,"v":0.76},{"s":"y","t":0.79,"v":0.11},{"s":"y","t":0.815,"v":0.11},{"s":"y","t":0.832,"v":0.01},{"s":"y","t":0.845,"v":-0.14},{"s":"y","t":0.866,"v":-0.04},{"s":"y","t":0.887,"v":0.71},{"s":"y","t":0.908,"v":2.57},{"s":"y","t":0.924,"v":3.93},{"s":"y","t":0.941,"v":4.13},{"s":"y","t":0.962,"v":2.87},{"s":"y","t":0.987,"v":1.62},{"s":"y","t":1.008,"v":0.96},{"s":"y","t":1.038,"v":0.11},{"s":"y","t":1.063,"v":-0.64},{"s":"y","t":1.084,"v":-1.15},{"s":"y","t":1.101,"v":-1.1},{"s":"y","t":1.126,"v":-0.24},{"s":"y","t":1.147,"v":0.46},{"s":"y","t":1.176,"v":0.81},{"s":"y","t":1.202,"v":2.02},{"s":"y","t":1.218,"v":3.68},{"s":"y","t":1.239,"v":2.62},{"s":"y","t":1.261,"v":0.51},{"s":"y","t":1.282,"v":1.17},{"s":"y","t":1.301,"v":4.03},{"s":"y","t":1.318,"v":2.37},{"s":"y","t":1.339,"v":1.32},{"s":"y","t":1.36,"v":1.22},{"s":"y","t":1.377,"v":0.71},{"s":"y","t":1.402,"v":0.06},{"s":"y","t":1.431,"v":-0.19},{"s":"y","t":1.461,"v":-0.29},{"s":"y","t":1.49,"v":-0.04},{"s":"y","t":1.515,"v":0.61},{"s":"y","t":1.536,"v":1.72},{"s":"y","t":1.557,"v":4.23},{"s":"y","t":1.578,"v":4.23},{"s":"y","t":1.595,"v":2.37},{"s":"y","t":1.62,"v":0.96},{"s":"y","t":1.645,"v":0.56},{"s":"y","t":1.666,"v":0.36},{"s":"y","t":1.696,"v":-0.64},{"s":"y","t":1.721,"v":-1.45},{"s":"y","t":1.746,"v":-0.99},{"s":"y","t":1.771,"v":0.11},{"s":"y","t":1.788,"v":0.96},{"s":"y","t":1.805,"v":1.32},{"s":"y","t":1.822,"v":1.17},{"s":"y","t":1.838,"v":1.77},{"s":"y","t":1.855,"v":3.93},{"s":"y","t":1.872,"v":3.28},{"s":"y","t":1.897,"v":0.41},{"s":"y","t":1.918,"v":1.92},{"s":"y","t":1.939,"v":3.68},{"s":"y","t":1.96,"v":2.17},{"s":"y","t":1.981,"v":1.22},{"s":"y","t":2.006,"v":1.12},{"s":"y","t":2.031,"v":0.51},{"s":"y","t":2.056,"v":-0.04},{"s":"y","t":2.09,"v":-0.14},{"s":"y","t":2.119,"v":-0.14},{"s":"y","t":2.14,"v":0.11},{"s":"y","t":2.157,"v":1.12},{"s":"y","t":2.174,"v":3.53},{"s":"y","t":2.195,"v":4.08},{"s":"y","t":2.216,"v":3.28},{"s":"y","t":2.237,"v":1.82},{"s":"y","t":2.258,"v":1.67},{"s":"y","t":2.283,"v":1.12},{"s":"y","t":2.308,"v":0.36},{"s":"y","t":2.342,"v":-0.54},{"s":"y","t":2.375,"v":-1.2},{"s":"y","t":2.4,"v":-0.64},{"s":"y","t":2.421,"v":0.36},{"s":"y","t":2.438,"v":1.02},{"s":"y","t":2.459,"v":1.22},{"s":"y","t":2.476,"v":0.76},{"s":"y","t":2.492,"v":2.27},{"s":"y","t":2.509,"v":4.28},{"s":"y","t":2.519,"v":4.99},{"s":"y","t":2.53,"v":3.13},{"s":"y","t":2.551,"v":-0.09},{"s":"y","t":2.572,"v":0.86},{"s":"y","t":2.598,"v":3.38},
{"s":"z","t":0.017,"v":0.06},{"s":"z","t":0.034,"v":-0.04},{"s":"z","t":0.055,"v":-0.34},{"s":"z","t":0.076,"v":0.11},{"s":"z","t":0.101,"v":-0.59},{"s":"z","t":0.118,"v":-0.59},{"s":"z","t":0.134,"v":-0.24},{"s":"z","t":0.151,"v":0.11},{"s":"z","t":0.172,"v":-0.14},{"s":"z","t":0.193,"v":-0.04},{"s":"z","t":0.214,"v":0.06},{"s":"z","t":0.235,"v":0.26},{"s":"z","t":0.256,"v":0.46},{"s":"z","t":0.282,"v":-0.09},{"s":"z","t":0.298,"v":-0.34},{"s":"z","t":0.319,"v":0.36},{"s":"z","t":0.336,"v":-0.64},{"s":"z","t":0.361,"v":-0.99},{"s":"z","t":0.382,"v":-0.94},{"s":"z","t":0.403,"v":-0.49},{"s":"z","t":0.42,"v":0.11},{"s":"z","t":0.441,"v":0.56},{"s":"z","t":0.462,"v":0.36},{"s":"z","t":0.483,"v":0.06},{"s":"z","t":0.504,"v":-0.14},{"s":"z","t":0.529,"v":0.06},{"s":"z","t":0.555,"v":0.06},{"s":"z","t":0.58,"v":0.11},{"s":"z","t":0.601,"v":-0.04},{"s":"z","t":0.622,"v":0.26},{"s":"z","t":0.643,"v":-0.14},{"s":"z","t":0.664,"v":-0.44},{"s":"z","t":0.689,"v":-0.44},{"s":"z","t":0.714,"v":-0.49},{"s":"z","t":0.739,"v":0.11},{"s":"z","t":0.765,"v":0.11},{"s":"z","t":0.79,"v":-0.14},{"s":"z","t":0.811,"v":-0.29},{"s":"z","t":0.832,"v":-0.04},{"s":"z","t":0.857,"v":0.06},{"s":"z","t":0.882,"v":0.36},{"s":"z","t":0.903,"v":-0.19},{"s":"z","t":0.924,"v":-0.39},{"s":"z","t":0.941,"v":0.66},{"s":"z","t":0.966,"v":0.11},{"s":"z","t":0.987,"v":-0.74},{"s":"z","t":1.004,"v":-1.15},{"s":"z","t":1.025,"v":-0.59},{"s":"z","t":1.05,"v":0.16},{"s":"z","t":1.071,"v":0.56},{"s":"z","t":1.088,"v":0.46},{"s":"z","t":1.113,"v":0.06},{"s":"z","t":1.13,"v":0.11},{"s":"z","t":1.147,"v":-0.14},{"s":"z","t":1.164,"v":0.16},{"s":"z","t":1.176,"v":-0.04},{"s":"z","t":1.193,"v":0.16},{"s":"z","t":1.214,"v":-0.19},{"s":"z","t":1.235,"v":0.46},{"s":"z","t":1.252,"v":0.41},{"s":"z","t":1.273,"v":-0.04},{"s":"z","t":1.29,"v":-0.39},{"s":"z","t":1.305,"v":0.05},{"s":"z","t":1.322,"v":-0.44},{"s":"z","t":1.339,"v":-0.84},{"s":"z","t":1.36,"v":-0.19},{"s":"z","t":1.381,"v":0.21},{"s":"z","t":1.402,"v":0.01},{"s":"z","t":1.423,"v":-0.14},{"s":"z","t":1.448,"v":-0.14},{"s":"z","t":1.469,"v":0.06},{"s":"z","t":1.494,"v":0.31},{"s":"z","t":1.515,"v":0.36},{"s":"z","t":1.54,"v":-0.54},{"s":"z","t":1.566,"v":0.21},{"s":"z","t":1.582,"v":-0.24},{"s":"z","t":1.599,"v":-0.74},{"s":"z","t":1.62,"v":-0.94},{"s":"z","t":1.641,"v":-0.69},{"s":"z","t":1.662,"v":0.21},{"s":"z","t":1.679,"v":0.56},{"s":"z","t":1.7,"v":0.74},{"s":"z","t":1.721,"v":0.36},{"s":"z","t":1.742,"v":0.11},{"s":"z","t":1.763,"v":0.36},{"s":"z","t":1.784,"v":0.26},{"s":"z","t":1.8,"v":-0.29},{"s":"z","t":1.822,"v":0.21},{"s":"z","t":1.842,"v":-0.29},{"s":"z","t":1.863,"v":0.81},{"s":"z","t":1.88,"v":0.11},{"s":"z","t":1.901,"v":-0.24},{"s":"z","t":1.918,"v":-0.64},{"s":"z","t":1.939,"v":-0.14},{"s":"z","t":1.96,"v":0.36},{"s":"z","t":1.981,"v":-0.84},{"s":"z","t":2.002,"v":-0.19},{"s":"z","t":2.023,"v":0.36},{"s":"z","t":2.044,"v":-0.04},{"s":"z","t":2.069,"v":-0.14},{"s":"z","t":2.094,"v":-0.04},{"s":"z","t":2.119,"v":0.31},{"s":"z","t":2.14,"v":0.51},{"s":"z","t":2.166,"v":-0.04},{"s":"z","t":2.187,"v":0.16},{"s":"z","t":2.207,"v":-0.04},{"s":"z","t":2.228,"v":-0.34},{"s":"z","t":2.249,"v":-0.74},{"s":"z","t":2.275,"v":-0.54},{"s":"z","t":2.3,"v":-0.14},{"s":"z","t":2.325,"v":0.36},{"s":"z","t":2.346,"v":0.51},{"s":"z","t":2.367,"v":0.46},{"s":"z","t":2.388,"v":0.06},{"s":"z","t":2.413,"v":0.11},{"s":"z","t":2.434,"v":-0.29},{"s":"z","t":2.459,"v":-0.29},{"s":"z","t":2.48,"v":0.36},{"s":"z","t":2.501,"v":-0.84},{"s":"z","t":2.518,"v":1.37},{"s":"z","t":2.535,"v":0.86},{"s":"z","t":2.555,"v":-0.89},{"s":"z","t":2.577,"v":-0.54},{"s":"z","t":2.598,"v":0.11}
],
"d": [
{"s":"x","t":0.024,"v":0.11},{"s":"x","t":0.045,"v":-0.04},{"s":"x","t":0.066,"v":-0.62},{"s":"x","t":0.087,"v":-1.49},{"s":"x","t":0.104,"v":-1.7},{"s":"x","t":0.12,"v":-0.76},{"s":"x","t":0.146,"v":0.83},{"s":"x","t":0.171,"v":0.98},{"s":"x","t":0.196,"v":0.54},{"s":"x","t":0.221,"v":0.04},{"s":"x","t":0.242,"v":-0.18},{"s":"x","t":0.271,"v":0.18},{"s":"x","t":0.296,"v":0.33},{"s":"x","t":0.326,"v":0.22},{"s":"x","t":0.355,"v":0.11},{"s":"x","t":0.38,"v":0.04},{"s":"x","t":0.401,"v":-0.18},{"s":"x","t":0.418,"v":1.12},{"s":"x","t":0.43,"v":0.25},{"s":"x","t":0.443,"v":-0.98},{"s":"x","t":0.464,"v":-0.91},{"s":"x","t":0.485,"v":-0.76},{"s":"x","t":0.502,"v":-1.12},{"s":"x","t":0.523,"v":-0.25},{"s":"x","t":0.548,"v":-0.18},{"s":"x","t":0.573,"v":-0.25},{"s":"x","t":0.598,"v":-0.18},{"s":"x","t":0.619,"v":-0.04},{"s":"x","t":0.636,"v":-0.76},{"s":"x","t":0.657,"v":-1.56},{"s":"x","t":0.677,"v":-1.12},{"s":"x","t":0.698,"v":-0.33},{"s":"x","t":0.719,"v":0.25},{"s":"x","t":0.74,"v":0.25},{"s":"x","t":0.761,"v":0.18},{"s":"x","t":0.782,"v":0.4},{"s":"x","t":0.807,"v":0.54},{"s":"x","t":0.837,"v":0.54},{"s":"x","t":0.866,"v":0.4},{"s":"x","t":0.895,"v":0.18},{"s":"x","t":0.916,"v":-0.76},{"s":"x","t":0.929,"v":0.69},{"s":"x","t":0.941,"v":2.14},{"s":"x","t":0.958,"v":0.69},{"s":"x","t":0.979,"v":-0.98},{"s":"x","t":1.0,"v":-1.85},{"s":"x","t":1.021,"v":-0.91},{"s":"x","t":1.042,"v":-0.04},{"s":"x","t":1.063,"v":0.04},{"s":"x","t":1.084,"v":0.04},{"s":"x","t":1.109,"v":-0.04},{"s":"x","t":1.134,"v":0.0},{"s":"x","t":1.155,"v":-0.04},{"s":"x","t":1.176,"v":-0.76},{"s":"x","t":1.197,"v":-1.34},{"s":"x","t":1.213,"v":-0.98},{"s":"x","t":1.234,"v":-0.33},{"s":"x","t":1.26,"v":-0.11},{"s":"x","t":1.285,"v":-0.11},{"s":"x","t":1.31,"v":-0.11},{"s":"x","t":1.342,"v":0.04},{"s":"x","t":1.376,"v":0.22},{"s":"x","t":1.401,"v":-0.04},{"s":"x","t":1.426,"v":0.11},{"s":"x","t":1.443,"v":0.04},{"s":"x","t":1.459,"v":0.98},{"s":"x","t":1.472,"v":1.12},{"s":"x","t":1.485,"v":0.69},{"s":"x","t":1.501,"v":-0.4},{"s":"x","t":1.522,"v":-1.41},{"s":"x","t":1.543,"v":-0.76},{"s":"x","t":1.568,"v":-0.47},{"s":"x","t":1.593,"v":-0.25},{"s":"x","t":1.623,"v":-0.04},{"s":"x","t":1.652,"v":0.04},{"s":"x","t":1.673,"v":-0.04},{"s":"x","t":1.69,"v":-0.62},{"s":"x","t":1.702,"v":-0.98},{"s":"x","t":1.723,"v":-0.98},{"s":"x","t":1.74,"v":-1.34},{"s":"x","t":1.757,"v":-0.47},{"s":"x","t":1.769,"v":-0.76},{"s":"x","t":1.786,"v":-0.76},{"s":"x","t":1.811,"v":-0.4},{"s":"x","t":1.836,"v":-0.04},{"s":"x","t":1.857,"v":0.4},{"s":"x","t":1.882,"v":0.62},{"s":"x","t":1.903,"v":0.47},{"s":"x","t":1.924,"v":0.25},{"s":"x","t":1.945,"v":0.25},{"s":"x","t":1.962,"v":0.83},{"s":"x","t":1.974,"v":-0.04},{"s":"x","t":1.983,"v":-0.54},{"s":"x","t":2.0,"v":-0.04},{"s":"x","t":2.021,"v":0.33},{"s":"x","t":2.045,"v":0.11},{"s":"x","t":2.071,"v":-0.11},{"s":"x","t":2.096,"v":-0.33},{"s":"x","t":2.121,"v":-0.4},{"s":"x","t":2.146,"v":-0.54},{"s":"x","t":2.171,"v":-0.76},{"s":"x","t":2.196,"v":-0.83},{"s":"x","t":2.217,"v":-1.2},{"s":"x","t":2.234,"v":-1.56},{"s":"x","t":2.247,"v":-0.91},{"s":"x","t":2.259,"v":-0.25},{"s":"x","t":2.28,"v":-0.04},{"s":"x","t":2.305,"v":0.04},{"s":"x","t":2.33,"v":0.18},{"s":"x","t":2.356,"v":0.62},{"s":"x","t":2.377,"v":0.62},{"s":"x","t":2.397,"v":0.4},{"s":"x","t":2.423,"v":0.18},{"s":"x","t":2.443,"v":-0.04},{"s":"x","t":2.473,"v":-0.04},{"s":"x","t":2.506,"v":0.04},{"s":"x","t":2.531,"v":-0.11},{"s":"x","t":2.552,"v":-0.04},{"s":"x","t":2.569,"v":-0.33},{"s":"x","t":2.582,"v":-0.33},{"s":"x","t":2.598,"v":0.4},
{"s":"y","t":0.024,"v":0.36},{"s":"y","t":0.045,"v":0.25},{"s":"y","t":0.066,"v":0.62},{"s":"y","t":0.087,"v":2.14},{"s":"y","t":0.104,"v":3.04},{"s":"y","t":0.12,"v":2.43},{"s":"y","t":0.146,"v":1.7},{"s":"y","t":0.171,"v":0.98},{"s":"y","t":0.196,"v":0.18},{"s":"y","t":0.217,"v":-0.47},{"s":"y","t":0.234,"v":-0.58},{"s":"y","t":0.254,"v":-0.47},{"s":"y","t":0.288,"v":-0.25},{"s":"y","t":0.321,"v":-0.11},{"s":"y","t":0.355,"v":0.04},{"s":"y","t":0.38,"v":0.33},{"s":"y","t":0.401,"v":1.78},{"s":"y","t":0.422,"v":5.04},{"s":"y","t":0.439,"v":6.85},{"s":"y","t":0.456,"v":3.59},{"s":"y","t":0.476,"v":1.05},{"s":"y","t":0.497,"v":-0.62},{"s":"y","t":0.518,"v":-0.18},{"s":"y","t":0.539,"v":0.04},{"s":"y","t":0.573,"v":0.04},{"s":"y","t":0.598,"v":0.18},{"s":"y","t":0.619,"v":0.25},{"s":"y","t":0.636,"v":3.73},{"s":"y","t":0.657,"v":3.99},{"s":"y","t":0.673,"v":3.44},{"s":"y","t":0.69,"v":2.14},{"s":"y","t":0.707,"v":1.27},{"s":"y","t":0.724,"v":0.04},{"s":"y","t":0.749,"v":-0.25},{"s":"y","t":0.782,"v":-0.47},{"s":"y","t":0.811,"v":-0.54},{"s":"y","t":0.841,"v":-0.33},{"s":"y","t":0.866,"v":-0.04},{"s":"y","t":0.899,"v":0.25},{"s":"y","t":0.92,"v":2.14},{"s":"y","t":0.937,"v":5.04},{"s":"y","t":0.958,"v":5.29},{"s":"y","t":0.975,"v":2.86},{"s":"y","t":0.992,"v":0.69},{"s":"y","t":1.004,"v":0.62},{"s":"y","t":1.021,"v":1.12},{"s":"y","t":1.038,"v":0.4},{"s":"y","t":1.059,"v":-0.25},{"s":"y","t":1.088,"v":-0.36},{"s":"y","t":1.117,"v":-0.33},{"s":"y","t":1.146,"v":-0.11},{"s":"y","t":1.163,"v":0.76},{"s":"y","t":1.176,"v":2.21},{"s":"y","t":1.193,"v":2.5},{"s":"y","t":1.213,"v":2.86},{"s":"y","t":1.234,"v":2.5},{"s":"y","t":1.255,"v":1.05},{"s":"y","t":1.285,"v":0.25},{"s":"y","t":1.31,"v":-0.04},{"s":"y","t":1.342,"v":-0.4},{"s":"y","t":1.376,"v":-0.54},{"s":"y","t":1.401,"v":-0.04},{"s":"y","t":1.426,"v":0.25},{"s":"y","t":1.451,"v":2.14},{"s":"y","t":1.468,"v":4.31},{"s":"y","t":1.485,"v":4.89},{"s":"y","t":1.497,"v":3.95},{"s":"y","t":1.51,"v":2.14},{"s":"y","t":1.526,"v":0.25},{"s":"y","t":1.543,"v":0.91},{"s":"y","t":1.56,"v":0.69},{"s":"y","t":1.585,"v":-0.04},{"s":"y","t":1.606,"v":-0.33},{"s":"y","t":1.627,"v":-0.25},{"s":"y","t":1.652,"v":0.04},{"s":"y","t":1.677,"v":0.69},{"s":"y","t":1.702,"v":2.14},{"s":"y","t":1.723,"v":4.02},{"s":"y","t":1.74,"v":3.44},{"s":"y","t":1.757,"v":2.14},{"s":"y","t":1.774,"v":0.69},{"s":"y","t":1.794,"v":0.25},{"s":"y","t":1.82,"v":0.04},{"s":"y","t":1.84,"v":-0.11},{"s":"y","t":1.87,"v":-0.11},{"s":"y","t":1.903,"v":0.11},{"s":"y","t":1.937,"v":0.11},{"s":"y","t":1.954,"v":2.14},{"s":"y","t":1.97,"v":5.04},{"s":"y","t":1.979,"v":6.49},{"s":"y","t":1.991,"v":5.4},{"s":"y","t":2.004,"v":2.86},{"s":"y","t":2.021,"v":0.69},{"s":"y","t":2.037,"v":-0.33},{"s":"y","t":2.062,"v":-0.4},{"s":"y","t":2.088,"v":-0.25},{"s":"y","t":2.121,"v":-0.25},{"s":"y","t":2.15,"v":-0.18},{"s":"y","t":2.171,"v":0.69},{"s":"y","t":2.196,"v":2.14},{"s":"y","t":2.217,"v":1.85},{"s":"y","t":2.234,"v":2.28},{"s":"y","t":2.259,"v":2.21},{"s":"y","t":2.28,"v":1.27},{"s":"y","t":2.305,"v":0.76},{"s":"y","t":2.33,"v":1.41},{"s":"y","t":2.356,"v":1.92},{"s":"y","t":2.377,"v":1.92},{"s":"y","t":2.397,"v":1.41},{"s":"y","t":2.423,"v":0.54},{"s":"y","t":2.443,"v":0.11},{"s":"y","t":2.473,"v":0.07},{"s":"y","t":2.515,"v":0.07},{"s":"y","t":2.54,"v":0.4},{"s":"y","t":2.552,"v":2.93},{"s":"y","t":2.573,"v":2.9},{"s":"y","t":2.598,"v":2.0},
{"s":"z","t":0.024,"v":0.25},{"s":"z","t":0.045,"v":0.11},{"s":"z","t":0.066,"v":-0.62},{"s":"z","t":0.083,"v":-1.41},{"s":"z","t":0.1,"v":-1.41},{"s":"z","t":0.116,"v":0.04},{"s":"z","t":0.133,"v":1.2},{"s":"z","t":0.146,"v":1.49},{"s":"z","t":0.162,"v":0.98},{"s":"z","t":0.183,"v":0.33},{"s":"z","t":0.204,"v":-0.11},{"s":"z","t":0.225,"v":-0.54},{"s":"z","t":0.242,"v":-0.4},{"s":"z","t":0.263,"v":0.18},{"s":"z","t":0.288,"v":0.36},{"s":"z","t":0.309,"v":0.29},{"s":"z","t":0.334,"v":0.18},{"s":"z","t":0.359,"v":0.11},{"s":"z","t":0.389,"v":0.04},{"s":"z","t":0.405,"v":0.25},{"s":"z","t":0.422,"v":0.98},{"s":"z","t":0.439,"v":1.78},{"s":"z","t":0.456,"v":0.11},{"s":"z","t":0.476,"v":-0.76},{"s":"z","t":0.497,"v":-2.57},{"s":"z","t":0.514,"v":-0.76},{"s":"z","t":0.535,"v":0.18},{"s":"z","t":0.564,"v":0.25},{"s":"z","t":0.598,"v":0.29},{"s":"z","t":0.619,"v":0.25},{"s":"z","t":0.636,"v":-0.62},{"s":"z","t":0.652,"v":-1.27},{"s":"z","t":0.673,"v":-1.12},{"s":"z","t":0.694,"v":-0.25},{"s":"z","t":0.715,"v":0.33},{"s":"z","t":0.74,"v":0.04},{"s":"z","t":0.761,"v":0.04},{"s":"z","t":0.782,"v":0.33},{"s":"z","t":0.803,"v":0.33},{"s":"z","t":0.82,"v":-0.18},{"s":"z","t":0.837,"v":-0.33},{"s":"z","t":0.858,"v":-0.11},{"s":"z","t":0.883,"v":0.11},{"s":"z","t":0.908,"v":-0.33},{"s":"z","t":0.925,"v":0.69},{"s":"z","t":0.937,"v":2.86},{"s":"z","t":0.95,"v":5.04},{"s":"z","t":0.962,"v":4.17},{"s":"z","t":0.975,"v":0.69},{"s":"z","t":0.992,"v":-2.21},{"s":"z","t":1.0,"v":-3.59},{"s":"z","t":1.017,"v":-1.49},{"s":"z","t":1.033,"v":0.33},{"s":"z","t":1.059,"v":0.47},{"s":"z","t":1.084,"v":0.25},{"s":"z","t":1.109,"v":0.25},{"s":"z","t":1.142,"v":0.25},{"s":"z","t":1.159,"v":-0.04},{"s":"z","t":1.176,"v":-2.21},{"s":"z","t":1.193,"v":-2.14},{"s":"z","t":1.209,"v":-0.76},{"s":"z","t":1.226,"v":-0.04},{"s":"z","t":1.247,"v":0.33},{"s":"z","t":1.268,"v":0.33},{"s":"z","t":1.293,"v":0.11},{"s":"z","t":1.318,"v":0.11},{"s":"z","t":1.342,"v":0.04},{"s":"z","t":1.363,"v":-0.25},{"s":"z","t":1.384,"v":-0.83},{"s":"z","t":1.401,"v":-0.04},{"s":"z","t":1.422,"v":0.33},{"s":"z","t":1.443,"v":0.76},{"s":"z","t":1.459,"v":1.63},{"s":"z","t":1.472,"v":2.21},{"s":"z","t":1.485,"v":2.21},{"s":"z","t":1.497,"v":0.69},{"s":"z","t":1.51,"v":-0.76},{"s":"z","t":1.525,"v":-3.01},{"s":"z","t":1.539,"v":-1.49},{"s":"z","t":1.556,"v":-0.04},{"s":"z","t":1.568,"v":0.47},{"s":"z","t":1.589,"v":0.33},{"s":"z","t":1.618,"v":0.25},{"s":"z","t":1.652,"v":0.07},{"s":"z","t":1.673,"v":-0.18},{"s":"z","t":1.69,"v":-0.76},{"s":"z","t":1.702,"v":-1.56},{"s":"z","t":1.719,"v":-1.41},{"s":"z","t":1.732,"v":-0.62},{"s":"z","t":1.744,"v":0.25},{"s":"z","t":1.769,"v":0.54},{"s":"z","t":1.794,"v":0.62},{"s":"z","t":1.82,"v":0.33},{"s":"z","t":1.84,"v":-0.18},{"s":"z","t":1.861,"v":-0.83},{"s":"z","t":1.882,"v":-1.27},{"s":"z","t":1.903,"v":-0.47},{"s":"z","t":1.924,"v":0.25},{"s":"z","t":1.945,"v":0.4},{"s":"z","t":1.958,"v":0.54},{"s":"z","t":1.974,"v":0.11},{"s":"z","t":1.995,"v":0.25},{"s":"z","t":2.016,"v":0.33},{"s":"z","t":2.037,"v":0.25},{"s":"z","t":2.062,"v":-0.04},{"s":"z","t":2.088,"v":0.11},{"s":"z","t":2.117,"v":0.51},{"s":"z","t":2.134,"v":-0.11},{"s":"z","t":2.155,"v":-0.76},{"s":"z","t":2.175,"v":-1.34},{"s":"z","t":2.196,"v":-1.41},{"s":"z","t":2.217,"v":-0.25},{"s":"z","t":2.234,"v":-0.4},{"s":"z","t":2.247,"v":-0.11},{"s":"z","t":2.259,"v":1.12},{"s":"z","t":2.276,"v":1.27},{"s":"z","t":2.297,"v":0.4},{"s":"z","t":2.318,"v":0.25},{"s":"z","t":2.339,"v":0.4},{"s":"z","t":2.36,"v":0.25},{"s":"z","t":2.385,"v":-0.4},{"s":"z","t":2.414,"v":-0.91},{"s":"z","t":2.443,"v":-0.54},{"s":"z","t":2.473,"v":-0.11},{"s":"z","t":2.498,"v":0.11},{"s":"z","t":2.523,"v":0.04},{"s":"z","t":2.552,"v":-0.47},{"s":"z","t":2.573,"v":0.04},{"s":"z","t":2.597,"v":0.54}
]
},
"concat": [
{
 "width": 1608, "height": 852,
 "title": {"text": "Day 2: Running : Thigh", "offset": -60},
 "resolve": {"axis": {"x": "independent", "y": "independent"}},
 "layer": [
  {"data": {"name": "a"}, "mark": {"type": "line", "strokeWidth": 5.5, "strokeJoin": "round", "clip": true},
   "encoding": {
    "x": {"field": "t", "type": "quantitative", "scale": {"domain": [0, 2.6], "nice": false, "zero": false}, "axis": {"orient": "bottom", "values": [0, 0.5, 1, 1.5, 2, 2.5], "labelExpr": "'' + datum.value", "title": "time (s)", "grid": true}},
    "y": {"field": "v", "type": "quantitative", "scale": {"domain": [-4, 8], "nice": false, "zero": false}, "axis": {"orient": "left", "values": [-4, -2, 0, 2, 4, 6, 8], "labelExpr": "'' + datum.value", "title": "Acceleration(g)", "grid": true}},
    "color": {"field": "s", "type": "nominal", "scale": {"domain": ["x", "y", "z"], "range": ["#0072BD", "#D95319", "#EDB120"]}, "legend": null}}},
  {"data": {"name": "marks"}, "transform": [{"filter": "datum.p == 'a'"}], "mark": {"type": "rule", "color": "black", "strokeWidth": 8, "strokeDash": [26, 17]},
   "encoding": {
    "x": {"field": "x1", "type": "quantitative", "axis": {"orient": "top", "values": [0, 0.5, 1, 1.5, 2, 2.5], "labels": false, "title": null, "grid": false}},
    "x2": {"field": "x2"},
    "y": {"field": "y1", "type": "quantitative", "axis": {"orient": "right", "values": [-4, -2, 0, 2, 4, 6, 8], "labels": false, "title": null, "grid": false}},
    "y2": {"field": "y2"}}},
  {"data": {"name": "arrows"}, "transform": [{"filter": "datum.p == 'a'"}], "mark": {"type": "rule", "color": "#77AC30", "strokeWidth": 6},
   "encoding": {"x": {"field": "t1", "type": "quantitative", "axis": null}, "x2": {"field": "t2"}, "y": {"field": "v", "type": "quantitative", "axis": null}}},
  {"data": {"name": "arrows"}, "transform": [{"filter": "datum.p == 'a'"}], "mark": {"type": "point", "shape": "triangle-left", "filled": true, "color": "#77AC30", "opacity": 1, "size": 900, "xOffset": 15},
   "encoding": {"x": {"field": "t1", "type": "quantitative", "axis": null}, "y": {"field": "v", "type": "quantitative", "axis": null}}},
  {"data": {"name": "arrows"}, "transform": [{"filter": "datum.p == 'a'"}], "mark": {"type": "point", "shape": "triangle-right", "filled": true, "color": "#77AC30", "opacity": 1, "size": 900, "xOffset": -15},
   "encoding": {"x": {"field": "t2", "type": "quantitative", "axis": null}, "y": {"field": "v", "type": "quantitative", "axis": null}}},
  {"data": {"name": "arrows"}, "transform": [{"filter": "datum.p == 'a'"}], "mark": {"type": "text", "fontSize": 48, "fontWeight": "bold", "color": "black"},
   "encoding": {"x": {"field": "tt", "type": "quantitative", "axis": null}, "y": {"field": "tv", "type": "quantitative", "axis": null}, "text": {"field": "label"}}},
  {"data": {"name": "tags"}, "transform": [{"filter": "datum.p == 'a'"}], "mark": {"type": "text", "fontSize": 42, "fontWeight": "bold", "color": "black", "align": "left"},
   "encoding": {"x": {"field": "t", "type": "quantitative", "axis": null}, "y": {"field": "v", "type": "quantitative", "axis": null}, "text": {"field": "label"}}}
 ]
},
{
 "width": 1608, "height": 852,
 "title": {"text": "Day 3: Running : Thigh", "offset": -28},
 "resolve": {"axis": {"x": "independent", "y": "independent"}},
 "layer": [
  {"data": {"name": "c"}, "mark": {"type": "line", "strokeWidth": 5.5, "strokeJoin": "round", "clip": true},
   "encoding": {
    "x": {"field": "t", "type": "quantitative", "scale": {"domain": [0, 2.6], "nice": false, "zero": false}, "axis": {"orient": "bottom", "values": [0, 0.5, 1, 1.5, 2, 2.5], "labelExpr": "'' + datum.value", "title": "time (s)", "grid": true}},
    "y": {"field": "v", "type": "quantitative", "scale": {"domain": [-4, 8], "nice": false, "zero": false}, "axis": {"orient": "left", "values": [-4, -2, 0, 2, 4, 6, 8], "labelExpr": "'' + datum.value", "title": "Acceleration(g)", "grid": true}},
    "color": {"field": "s", "type": "nominal", "scale": {"domain": ["x", "y", "z"], "range": ["#0072BD", "#D95319", "#EDB120"]}, "legend": null}}},
  {"data": {"name": "marks"}, "transform": [{"filter": "datum.p == 'c'"}], "mark": {"type": "rule", "color": "black", "strokeWidth": 8, "strokeDash": [26, 17]},
   "encoding": {
    "x": {"field": "x1", "type": "quantitative", "axis": {"orient": "top", "values": [0, 0.5, 1, 1.5, 2, 2.5], "labels": false, "title": null, "grid": false}},
    "x2": {"field": "x2"},
    "y": {"field": "y1", "type": "quantitative", "axis": {"orient": "right", "values": [-4, -2, 0, 2, 4, 6, 8], "labels": false, "title": null, "grid": false}},
    "y2": {"field": "y2"}}},
  {"data": {"name": "arrows"}, "transform": [{"filter": "datum.p == 'c'"}], "mark": {"type": "rule", "color": "#77AC30", "strokeWidth": 6},
   "encoding": {"x": {"field": "t1", "type": "quantitative", "axis": null}, "x2": {"field": "t2"}, "y": {"field": "v", "type": "quantitative", "axis": null}}},
  {"data": {"name": "arrows"}, "transform": [{"filter": "datum.p == 'c'"}], "mark": {"type": "point", "shape": "triangle-left", "filled": true, "color": "#77AC30", "opacity": 1, "size": 900, "xOffset": 15},
   "encoding": {"x": {"field": "t1", "type": "quantitative", "axis": null}, "y": {"field": "v", "type": "quantitative", "axis": null}}},
  {"data": {"name": "arrows"}, "transform": [{"filter": "datum.p == 'c'"}], "mark": {"type": "point", "shape": "triangle-right", "filled": true, "color": "#77AC30", "opacity": 1, "size": 900, "xOffset": -15},
   "encoding": {"x": {"field": "t2", "type": "quantitative", "axis": null}, "y": {"field": "v", "type": "quantitative", "axis": null}}},
  {"data": {"name": "arrows"}, "transform": [{"filter": "datum.p == 'c'"}], "mark": {"type": "text", "fontSize": 48, "fontWeight": "bold", "color": "black"},
   "encoding": {"x": {"field": "tt", "type": "quantitative", "axis": null}, "y": {"field": "tv", "type": "quantitative", "axis": null}, "text": {"field": "label"}}},
  {"data": {"name": "tags"}, "transform": [{"filter": "datum.p == 'c'"}], "mark": {"type": "text", "fontSize": 42, "fontWeight": "bold", "color": "black", "align": "left"},
   "encoding": {"x": {"field": "t", "type": "quantitative", "axis": null}, "y": {"field": "v", "type": "quantitative", "axis": null}, "text": {"field": "label"}}}
 ]
},
{
 "width": 1608, "height": 852,
 "title": {"text": "Day 2: Running : Seam of skirt near thigh", "offset": -28},
 "resolve": {"axis": {"x": "independent", "y": "independent"}},
 "layer": [
  {"data": {"name": "b"}, "mark": {"type": "line", "strokeWidth": 5.5, "strokeJoin": "round", "clip": true},
   "encoding": {
    "x": {"field": "t", "type": "quantitative", "scale": {"domain": [0, 2.6], "nice": false, "zero": false}, "axis": {"orient": "bottom", "values": [0, 0.5, 1, 1.5, 2, 2.5], "labelExpr": "'' + datum.value", "title": "time (s)", "grid": true}},
    "y": {"field": "v", "type": "quantitative", "scale": {"domain": [-4, 8], "nice": false, "zero": false}, "axis": {"orient": "left", "values": [-4, -2, 0, 2, 4, 6, 8], "labelExpr": "'' + datum.value", "title": "Acceleration(g)", "grid": true}},
    "color": {"field": "s", "type": "nominal", "scale": {"domain": ["x", "y", "z"], "range": ["#0072BD", "#D95319", "#EDB120"]}, "legend": null}}},
  {"data": {"name": "marks"}, "transform": [{"filter": "datum.p == 'b'"}], "mark": {"type": "rule", "color": "black", "strokeWidth": 8, "strokeDash": [26, 17]},
   "encoding": {
    "x": {"field": "x1", "type": "quantitative", "axis": {"orient": "top", "values": [0, 0.5, 1, 1.5, 2, 2.5], "labels": false, "title": null, "grid": false}},
    "x2": {"field": "x2"},
    "y": {"field": "y1", "type": "quantitative", "axis": {"orient": "right", "values": [-4, -2, 0, 2, 4, 6, 8], "labels": false, "title": null, "grid": false}},
    "y2": {"field": "y2"}}},
  {"data": {"name": "arrows"}, "transform": [{"filter": "datum.p == 'b'"}], "mark": {"type": "rule", "color": "#77AC30", "strokeWidth": 6},
   "encoding": {"x": {"field": "t1", "type": "quantitative", "axis": null}, "x2": {"field": "t2"}, "y": {"field": "v", "type": "quantitative", "axis": null}}},
  {"data": {"name": "arrows"}, "transform": [{"filter": "datum.p == 'b'"}], "mark": {"type": "point", "shape": "triangle-left", "filled": true, "color": "#77AC30", "opacity": 1, "size": 900, "xOffset": 15},
   "encoding": {"x": {"field": "t1", "type": "quantitative", "axis": null}, "y": {"field": "v", "type": "quantitative", "axis": null}}},
  {"data": {"name": "arrows"}, "transform": [{"filter": "datum.p == 'b'"}], "mark": {"type": "point", "shape": "triangle-right", "filled": true, "color": "#77AC30", "opacity": 1, "size": 900, "xOffset": -15},
   "encoding": {"x": {"field": "t2", "type": "quantitative", "axis": null}, "y": {"field": "v", "type": "quantitative", "axis": null}}},
  {"data": {"name": "arrows"}, "transform": [{"filter": "datum.p == 'b'"}], "mark": {"type": "text", "fontSize": 48, "fontWeight": "bold", "color": "black"},
   "encoding": {"x": {"field": "tt", "type": "quantitative", "axis": null}, "y": {"field": "tv", "type": "quantitative", "axis": null}, "text": {"field": "label"}}},
  {"data": {"name": "tags"}, "transform": [{"filter": "datum.p == 'b'"}], "mark": {"type": "text", "fontSize": 42, "fontWeight": "bold", "color": "black", "align": "left"},
   "encoding": {"x": {"field": "t", "type": "quantitative", "axis": null}, "y": {"field": "v", "type": "quantitative", "axis": null}, "text": {"field": "label"}}}
 ]
},
{
 "width": 1608, "height": 852,
 "title": {"text": "Day 3: Running : Seam of frock near thigh", "offset": -44},
 "resolve": {"axis": {"x": "independent", "y": "independent"}},
 "layer": [
  {"data": {"name": "d"}, "mark": {"type": "line", "strokeWidth": 5.5, "strokeJoin": "round", "clip": true},
   "encoding": {
    "x": {"field": "t", "type": "quantitative", "scale": {"domain": [0, 2.6], "nice": false, "zero": false}, "axis": {"orient": "bottom", "values": [0, 0.5, 1, 1.5, 2, 2.5], "labelExpr": "'' + datum.value", "title": "time (s)", "grid": true}},
    "y": {"field": "v", "type": "quantitative", "scale": {"domain": [-4, 8], "nice": false, "zero": false}, "axis": {"orient": "left", "values": [-4, -2, 0, 2, 4, 6, 8], "labelExpr": "'' + datum.value", "title": "Acceleration(g)", "grid": true}},
    "color": {"field": "s", "type": "nominal", "scale": {"domain": ["x", "y", "z"], "range": ["#0072BD", "#D95319", "#EDB120"]}, "legend": null}}},
  {"data": {"name": "marks"}, "transform": [{"filter": "datum.p == 'd'"}], "mark": {"type": "rule", "color": "black", "strokeWidth": 8, "strokeDash": [26, 17]},
   "encoding": {
    "x": {"field": "x1", "type": "quantitative", "axis": {"orient": "top", "values": [0, 0.5, 1, 1.5, 2, 2.5], "labels": false, "title": null, "grid": false}},
    "x2": {"field": "x2"},
    "y": {"field": "y1", "type": "quantitative", "axis": {"orient": "right", "values": [-4, -2, 0, 2, 4, 6, 8], "labels": false, "title": null, "grid": false}},
    "y2": {"field": "y2"}}},
  {"data": {"name": "arrows"}, "transform": [{"filter": "datum.p == 'd'"}], "mark": {"type": "rule", "color": "#77AC30", "strokeWidth": 6},
   "encoding": {"x": {"field": "t1", "type": "quantitative", "axis": null}, "x2": {"field": "t2"}, "y": {"field": "v", "type": "quantitative", "axis": null}}},
  {"data": {"name": "arrows"}, "transform": [{"filter": "datum.p == 'd'"}], "mark": {"type": "point", "shape": "triangle-left", "filled": true, "color": "#77AC30", "opacity": 1, "size": 900, "xOffset": 15},
   "encoding": {"x": {"field": "t1", "type": "quantitative", "axis": null}, "y": {"field": "v", "type": "quantitative", "axis": null}}},
  {"data": {"name": "arrows"}, "transform": [{"filter": "datum.p == 'd'"}], "mark": {"type": "point", "shape": "triangle-right", "filled": true, "color": "#77AC30", "opacity": 1, "size": 900, "xOffset": -15},
   "encoding": {"x": {"field": "t2", "type": "quantitative", "axis": null}, "y": {"field": "v", "type": "quantitative", "axis": null}}},
  {"data": {"name": "arrows"}, "transform": [{"filter": "datum.p == 'd'"}], "mark": {"type": "text", "fontSize": 48, "fontWeight": "bold", "color": "black"},
   "encoding": {"x": {"field": "tt", "type": "quantitative", "axis": null}, "y": {"field": "tv", "type": "quantitative", "axis": null}, "text": {"field": "label"}}},
  {"data": {"name": "tags"}, "transform": [{"filter": "datum.p == 'd'"}], "mark": {"type": "text", "fontSize": 42, "fontWeight": "bold", "color": "black", "align": "left"},
   "encoding": {"x": {"field": "t", "type": "quantitative", "axis": null}, "y": {"field": "v", "type": "quantitative", "axis": null}, "text": {"field": "label"}}}
 ]
}
]
}
